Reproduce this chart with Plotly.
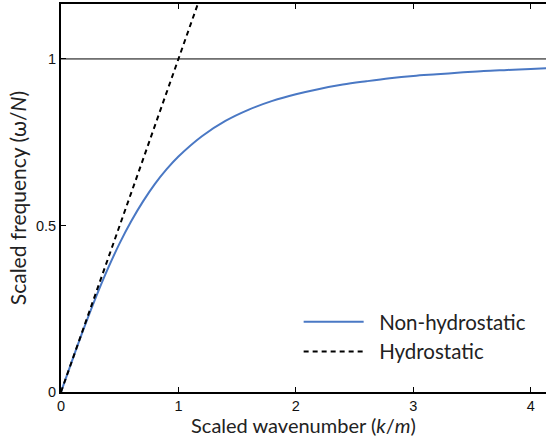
import plotly.graph_objects as go

# Scaled wavenumber k/m and scaled frequency omega/N
k_nonhydro = [0, 0.1, 0.2, 0.3, 0.4, 0.5, 0.6, 0.7, 0.8, 0.9, 1.0, 1.2, 1.4, 1.6, 1.8,
              2.0, 2.2, 2.4, 2.6, 2.8, 3.0, 3.2, 3.4, 3.6, 3.8, 4.0, 4.2]
w_nonhydro = [0, 0.0995, 0.196, 0.287, 0.371, 0.447, 0.514, 0.573, 0.625, 0.669, 0.707,
              0.768, 0.814, 0.848, 0.874, 0.894, 0.910, 0.923, 0.933, 0.942, 0.949,
              0.954, 0.959, 0.964, 0.967, 0.970, 0.973]
k_hydro = [0, 1.2]
w_hydro = [0, 1.2]
x_ticks = [0, 1, 2, 3, 4]
y_ticks = [0, 0.5, 1]
y_ticklabels = ["0", "0.5", "1"]

fig = go.Figure()
fig.add_trace(go.Scatter(x=k_nonhydro, y=w_nonhydro, mode="lines",
                         name="\u00a0\u00a0Non-hydrostatic",
                         line=dict(color="#4a78c4", width=2, shape="spline")))
fig.add_trace(go.Scatter(x=k_hydro, y=w_hydro, mode="lines",
                         name="\u00a0\u00a0Hydrostatic",
                         line=dict(color="black", width=2, dash="5px,4px")))
fig.add_hline(y=1, line=dict(color="black", width=1))

tick_font = dict(family="Liberation Sans, Arial", size=14.5, color="#111")
fig.update_layout(
    width=546, height=437,
    margin=dict(l=61, r=0, t=4, b=45),
    paper_bgcolor="white", plot_bgcolor="white",
    showlegend=True,
    legend=dict(x=0.49, y=0.232, xanchor="left", yanchor="top", bgcolor="rgba(0,0,0,0)",
                font=dict(family="Lato", size=20.5, color="#222"), itemwidth=60,
                tracegroupgap=0),
    xaxis=dict(range=[0, 4.13], tickvals=x_ticks, ticks="inside", ticklen=5, tickwidth=1,
               tickcolor="black", showline=True, linecolor="black", linewidth=2,
               mirror="ticks", showgrid=False, zeroline=False, tickfont=tick_font,
               title=dict(text="Scaled wavenumber (<i>k</i>/<i>m</i>)",
                          font=dict(family="Lato", size=20, color="#222"), standoff=6)),
    yaxis=dict(range=[0, 1.165], tickvals=y_ticks, ticktext=y_ticklabels, ticks="inside",
               ticklen=5, tickwidth=1, tickcolor="black", showline=True, linecolor="black",
               linewidth=2, showgrid=False, zeroline=False, tickfont=tick_font,
               title=dict(text="Scaled frequency (ω/<i>N</i>)",
                          font=dict(family="Lato", size=21, color="#222"), standoff=4)),
)

fig.write_html("out.html")
